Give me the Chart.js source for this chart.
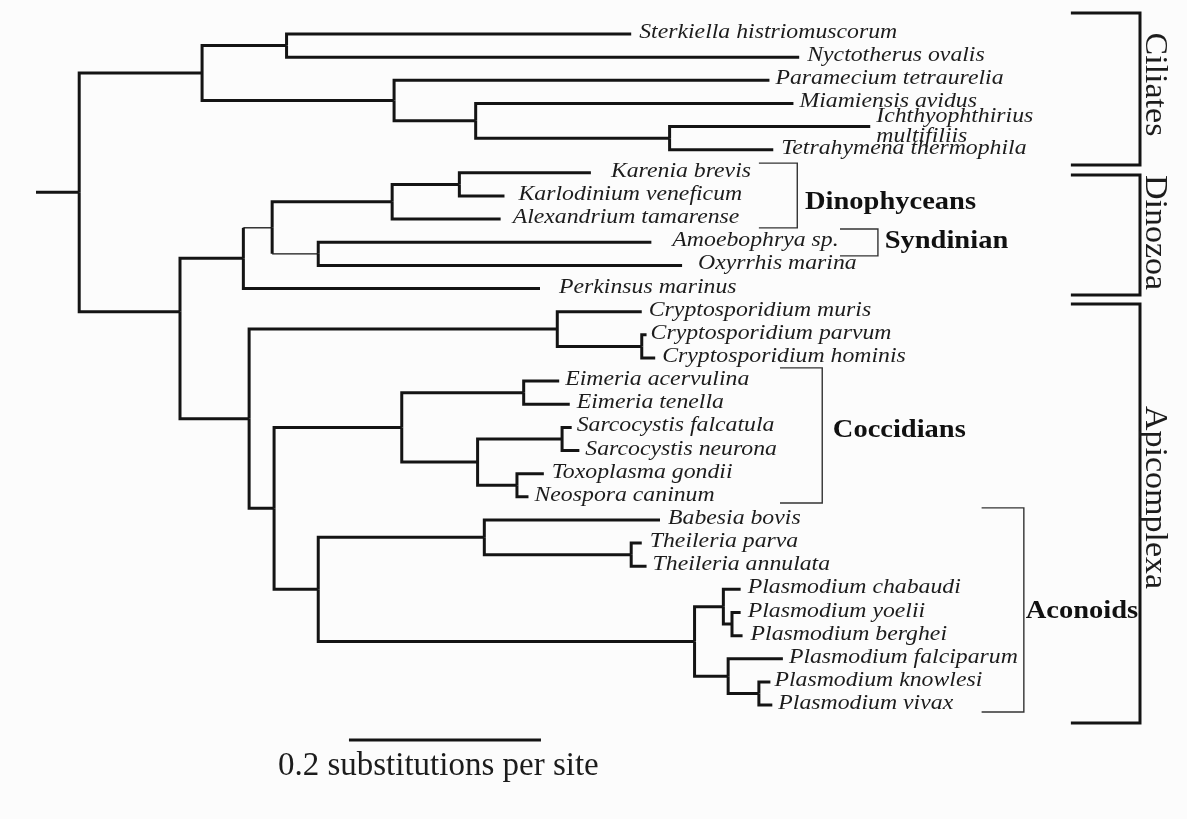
<!DOCTYPE html>
<html>
<head>
<meta charset="utf-8">
<script src="https://cdn.jsdelivr.net/npm/chart.js@4.4.1/dist/chart.umd.min.js"></script>
<style>
  html, body { margin: 0; padding: 0; background: #fcfcfc; }
  #wrap { width: 1187px; height: 819px; position: relative; }
</style>
</head>
<body>
<div id="wrap"><canvas id="tree"></canvas></div>
<script>
// Terminal taxa, listed top to bottom (row = index)
const taxa = [
  'Sterkiella histriomuscorum', 'Nyctotherus ovalis', 'Paramecium tetraurelia',
  'Miamiensis avidus', 'Ichthyophthirius\nmultifiliis', 'Tetrahymena thermophila',
  'Karenia brevis', 'Karlodinium veneficum', 'Alexandrium tamarense',
  'Amoebophrya sp.', 'Oxyrrhis marina', 'Perkinsus marinus',
  'Cryptosporidium muris', 'Cryptosporidium parvum', 'Cryptosporidium hominis',
  'Eimeria acervulina', 'Eimeria tenella', 'Sarcocystis falcatula',
  'Sarcocystis neurona', 'Toxoplasma gondii', 'Neospora caninum',
  'Babesia bovis', 'Theileria parva', 'Theileria annulata',
  'Plasmodium chabaudi', 'Plasmodium yoelii', 'Plasmodium berghei',
  'Plasmodium falciparum', 'Plasmodium knowlesi', 'Plasmodium vivax'
];

// Root-to-tip distance of each taxon (substitutions per site)
const tipDepth = [
  0.620, 0.795, 0.764, 0.789, 0.869, 0.768,
  0.578, 0.488, 0.484, 0.641, 0.673, 0.525,
  0.631, 0.636, 0.645, 0.545, 0.556, 0.558,
  0.566, 0.529, 0.513, 0.650, 0.631, 0.636,
  0.734, 0.734, 0.736, 0.778, 0.765, 0.767
];

// Internal nodes: root-to-node distance and children ('t#' = taxon, 'n#' = node)
const nodeDepth = [
  0.045, 0.173, 0.261, 0.373, 0.458, 0.660,
  0.150, 0.216, 0.246, 0.371, 0.441, 0.294,
  0.222, 0.543, 0.631, 0.248, 0.381, 0.508,
  0.460, 0.548, 0.501, 0.294, 0.467, 0.620,
  0.686, 0.716, 0.725, 0.721, 0.753
];
const nodeKids = [
  ['n1', 'n6'], ['n2', 'n3'], ['t0', 't1'], ['t2', 'n4'], ['t3', 'n5'], ['t4', 't5'],
  ['n7', 'n12'], ['n8', 't11'], ['n9', 'n11'], ['n10', 't8'], ['t6', 't7'], ['t9', 't10'],
  ['n13', 'n15'], ['t12', 'n14'], ['t13', 't14'], ['n16', 'n21'], ['n17', 'n18'], ['t15', 't16'],
  ['n19', 'n20'], ['t17', 't18'], ['t19', 't20'], ['n22', 'n24'], ['t21', 'n23'], ['t22', 't23'],
  ['n25', 'n27'], ['t24', 'n26'], ['t25', 't26'], ['t27', 'n28'], ['t28', 't29']
];
// Dinozoa + Apicomplexa node sits level with row 12 rather than midway
const pinnedRows = [[6, 12]];

// Scale bar
const scaleBarValue = 0.2;
const scaleBarText = '0.2 substitutions per site';

// Major groups and sub-clades
const groupNames = ['Ciliates', 'Dinozoa', 'Apicomplexa'];
const groupRows = [[-0.91, 5.66], [6.09, 11.28], [11.67, 29.78]];
const cladeNames = ['Dinophyceans', 'Syndinian', 'Coccidians', 'Aconoids'];
const cladeRows = [[5.58, 8.38], [8.43, 9.59], [14.43, 20.27], [20.48, 29.30]];

// ---- layout / style ----
const INK = '#141414';
const TEXT = '#1c1c1c';
const thinStems = ['n8', 'n11'];
const labelGap = [8, 8, 6, 6, 6, 8, 20, 14, 12, 21, 16, 19, 7, 4, 7, 6, 7, 5, 6, 8, 6, 8, 8, 6, 7, 7, 8, 6, 4, 6];
const scaleBarAt = { x: 0.326, row: 30.51 };
const scaleTextAt = { x: 0.252, row: 32.02 };
const groupBracketX = [1.078, 1.150];
const groupLabelX = 1.156;
const groupLabelRow = [2.18, 8.58, 20.03];
const cladeBracketX = [[0.753, 0.793], [0.8375, 0.877], [0.775, 0.819], [0.985, 1.029]];
const cladeLabelAt = [[0.801, 7.56], [0.884, 9.25], [0.830, 17.42], [1.031, 25.24]];

// ---- tree geometry ----
const rowCache = {};
function rowOf(id) {
  if (id[0] === 't') return +id.slice(1);
  if (rowCache[id] !== undefined) return rowCache[id];
  const k = +id.slice(1);
  const pin = pinnedRows.find(p => p[0] === k);
  let r;
  if (pin) r = pin[1];
  else {
    const kids = nodeKids[k];
    r = (rowOf(kids[0]) + rowOf(kids[kids.length - 1])) / 2;
  }
  rowCache[id] = r;
  return r;
}
function depthOf(id) {
  return id[0] === 't' ? tipDepth[+id.slice(1)] : nodeDepth[+id.slice(1)];
}

const datasets = [];
function branch(points, thin) {
  datasets.push({
    data: points,
    showLine: true,
    borderColor: INK,
    borderWidth: thin ? 1.3 : 3,
    pointRadius: 0,
    pointHoverRadius: 0,
    borderJoinStyle: 'miter',
    borderCapStyle: 'butt',
    tension: 0,
    fill: false
  });
}

const rootRow = rowOf('n0');
branch([{ x: 0, y: rootRow }, { x: nodeDepth[0], y: rootRow }]);
nodeKids.forEach((kids, k) => {
  const d = nodeDepth[k], r = rowOf('n' + k);
  kids.forEach(c => {
    const rc = rowOf(c), dc = depthOf(c);
    if (thinStems.includes(c)) {
      branch([{ x: d, y: r }, { x: d, y: rc }]);
      branch([{ x: d, y: rc }, { x: dc, y: rc }], true);
    } else {
      branch([{ x: d, y: r }, { x: d, y: rc }, { x: dc, y: rc }]);
    }
  });
});
branch([{ x: scaleBarAt.x, y: scaleBarAt.row }, { x: scaleBarAt.x + scaleBarValue, y: scaleBarAt.row }]);

// ---- text and brackets ----
function drawText(ctx, s, x, y, font, sx) {
  ctx.save();
  ctx.translate(x, y);
  ctx.scale(sx, 1);
  ctx.font = font;
  ctx.textAlign = 'left';
  ctx.textBaseline = 'alphabetic';
  ctx.fillText(s, 0, 0);
  ctx.restore();
}
function bracket(ctx, x0, x1, y0, y1, w, color) {
  ctx.save();
  ctx.strokeStyle = color;
  ctx.lineWidth = w;
  ctx.lineJoin = 'miter';
  ctx.beginPath();
  ctx.moveTo(x0, y0);
  ctx.lineTo(x1, y0);
  ctx.lineTo(x1, y1);
  ctx.lineTo(x0, y1);
  ctx.stroke();
  ctx.restore();
}

const annotate = {
  id: 'annotate',
  afterDatasetsDraw(chart) {
    const { ctx } = chart;
    const sx = chart.scales.x, sy = chart.scales.y;
    const px = v => sx.getPixelForValue(v);
    const py = v => sy.getPixelForValue(v);
    ctx.save();
    ctx.fillStyle = TEXT;

    // taxon names
    taxa.forEach((name, i) => {
      const lines = name.split('\n');
      const x0 = px(tipDepth[i]) + labelGap[i];
      const yc = py(i);
      const bases = lines.length === 1 ? [yc + 4] : [yc - 5, yc + 15];
      lines.forEach((ln, j) => drawText(ctx, ln, x0, bases[j], 'italic 22px "Liberation Serif"', 1.08));
    });

    // sub-clade brackets and names
    cladeNames.forEach((name, i) => {
      bracket(ctx, px(cladeBracketX[i][0]), px(cladeBracketX[i][1]),
        py(cladeRows[i][0]), py(cladeRows[i][1]), 1.4, '#333');
      ctx.fillStyle = '#111';
      drawText(ctx, name, px(cladeLabelAt[i][0]), py(cladeLabelAt[i][1]), 'bold 25px "Liberation Serif"', 1.14);
    });

    // major group brackets and rotated names
    groupNames.forEach((name, i) => {
      bracket(ctx, px(groupBracketX[0]), px(groupBracketX[1]),
        py(groupRows[i][0]), py(groupRows[i][1]), 3, INK);
      ctx.save();
      ctx.fillStyle = TEXT;
      ctx.translate(px(groupLabelX), py(groupLabelRow[i]));
      ctx.rotate(Math.PI / 2);
      ctx.scale(1, 0.92);
      ctx.font = '34px "Liberation Serif"';
      ctx.textAlign = 'center';
      ctx.textBaseline = 'alphabetic';
      ctx.fillText(name, 0, 0);
      ctx.restore();
    });

    // scale bar caption
    ctx.fillStyle = TEXT;
    drawText(ctx, scaleBarText, px(scaleTextAt.x), py(scaleTextAt.row), '33px "Liberation Serif"', 1.0);
    ctx.restore();
  }
};

new Chart(document.getElementById('tree'), {
  type: 'scatter',
  data: { datasets },
  options: {
    responsive: true,
    maintainAspectRatio: false,
    animation: false,
    events: [],
    layout: { padding: 0 },
    plugins: { legend: { display: false }, tooltip: { enabled: false } },
    scales: {
      x: { type: 'linear', display: false, min: -36 / 960, max: (1187 - 36) / 960 },
      y: { type: 'linear', display: false, reverse: true, min: -34 / 23.14, max: (819 - 34) / 23.14 }
    }
  },
  plugins: [annotate]
});
</script>
</body>
</html>
